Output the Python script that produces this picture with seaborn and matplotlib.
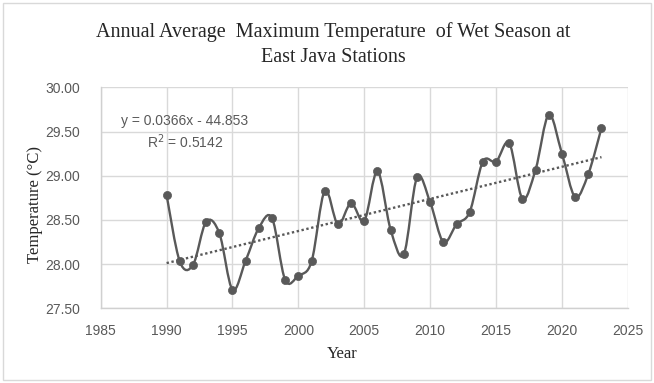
import numpy as np
import pandas as pd
import matplotlib
matplotlib.use("Agg")
import matplotlib.pyplot as plt
import seaborn as sns
from matplotlib.path import Path
from matplotlib.patches import PathPatch, Rectangle

# annual average max temperature, wet season, East Java
years = list(range(1990, 2024))
temps = [28.78, 28.03, 27.99, 28.48, 28.35, 27.71, 28.04, 28.41, 28.52, 27.82,
         27.87, 28.03, 28.83, 28.45, 28.69, 28.49, 29.05, 28.39, 28.11, 28.98,
         28.70, 28.25, 28.45, 28.59, 29.16, 29.16, 29.37, 28.74, 29.07, 29.69,
         29.25, 28.76, 29.02, 29.54]
x_ticks = [1985, 1990, 1995, 2000, 2005, 2010, 2015, 2020, 2025]
y_ticks = [27.5, 28.0, 28.5, 29.0, 29.5, 30.0]
equation = "y = 0.0366x - 44.853\nR$^2$ = 0.5142"
title_lines = ["Annual Average  Maximum Temperature  of Wet Season at", "East Java Stations"]

df = pd.DataFrame({"year": years, "temp": temps})

sns.set_style("whitegrid")
plt.rcParams['font.family'] = ['Liberation Serif', 'DejaVu Serif']
sans = ['Liberation Sans', 'DejaVu Sans']

grey = "#595959"
fig = plt.figure(figsize=(6.54, 3.83), dpi=100)
ax = fig.add_axes([0.154, 0.195, 0.806, 0.577])

# smoothed line like excel (bezier through every point)
xs = df["year"].to_numpy(dtype=float)
ys = df["temp"].to_numpy(dtype=float)
verts = [(xs[0], ys[0])]
codes = [Path.MOVETO]
n = len(xs)
for i in range(n - 1):
    p0 = np.array([xs[max(i - 1, 0)], ys[max(i - 1, 0)]])
    p1 = np.array([xs[i], ys[i]])
    p2 = np.array([xs[i + 1], ys[i + 1]])
    p3 = np.array([xs[min(i + 2, n - 1)], ys[min(i + 2, n - 1)]])
    c1 = p1 + (p2 - p0) / 6
    c2 = p2 - (p3 - p1) / 6
    verts += [tuple(c1), tuple(c2), tuple(p2)]
    codes += [Path.CURVE4] * 3
ax.add_patch(PathPatch(Path(verts, codes), facecolor="none", edgecolor=grey, lw=1.7, zorder=3))

sns.scatterplot(data=df, x="year", y="temp", ax=ax, color=grey, s=34,
                edgecolor=grey, linewidth=0.5, zorder=4, legend=False)

# linear trendline
slope, icpt = np.polyfit(xs, ys, 1)
tx = np.array([xs[0], xs[-1]])
ax.plot(tx, slope * tx + icpt, color=grey, lw=1.7, ls=(0, (1, 1.1)), zorder=2)

ax.text(1991.4, 29.49, equation, ha="center", va="center", multialignment="center",
        fontsize=10, color=grey, family=sans, linespacing=1.25)

ax.set_xlim(1985, 2025)
ax.set_ylim(27.5, 30.0)
ax.set_xticks(x_ticks)
ax.set_yticks(y_ticks)
ax.set_yticklabels([f"{v:.2f}" for v in y_ticks], family=sans)
ax.set_xticklabels([str(v) for v in x_ticks], family=sans)
ax.tick_params(length=0, labelsize=10, colors=grey)
ax.tick_params(axis="y", pad=15)
ax.tick_params(axis="x", pad=11)
ax.grid(color="#d9d9d9", lw=1)
for s in ["top", "right"]:
    ax.spines[s].set_visible(False)
for s in ["bottom", "left"]:
    ax.spines[s].set_color("#d0d0d0")
    ax.spines[s].set_linewidth(1)

ax.set_xlabel("Year", fontsize=12)
ax.xaxis.set_label_coords((342 - 100.7) / 527, -0.17)
ax.set_ylabel("Temperature (°C)", fontsize=12)
ax.yaxis.set_label_coords(-(100.7 - 43) / 527, 0.47)

fig.text(333 / 654, 1 - 37 / 383, title_lines[0], ha="center", va="baseline", fontsize=14.5)
fig.text(333 / 654, 1 - 62 / 383, title_lines[1], ha="center", va="baseline", fontsize=14.5)

fig.patches.append(Rectangle((0.004, 0.008), 0.992, 0.984, transform=fig.transFigure,
                             fill=False, edgecolor="#d9d9d9", lw=1))

fig.savefig("out.png", dpi=100)
